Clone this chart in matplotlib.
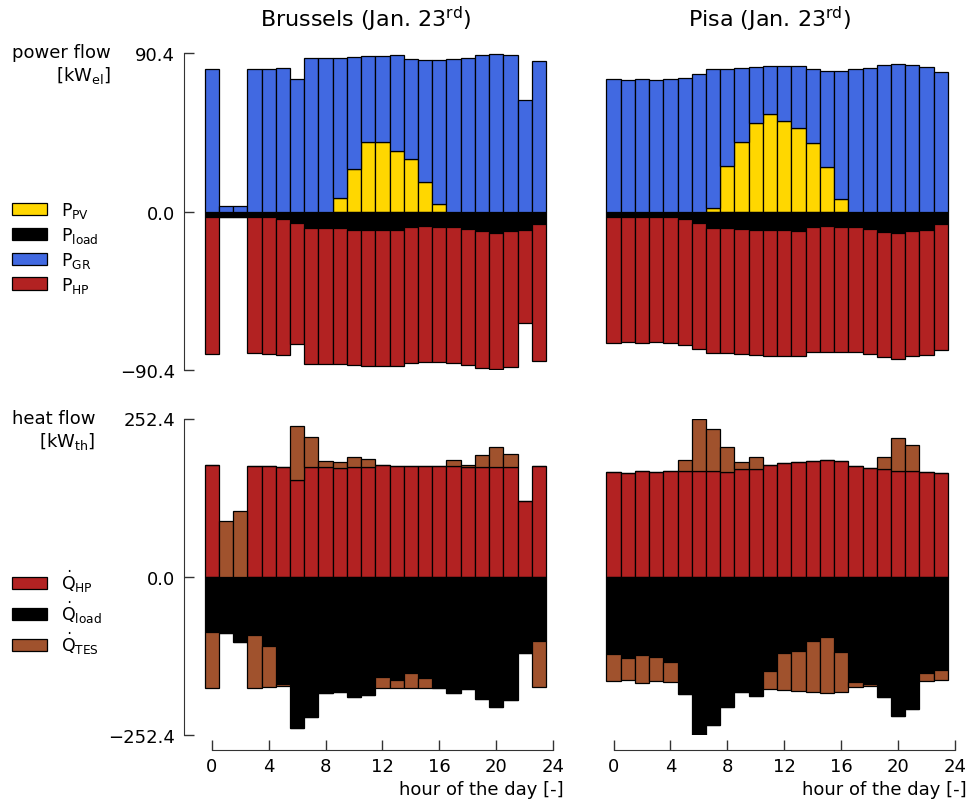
import numpy as np
import matplotlib
matplotlib.use("Agg")
import matplotlib.pyplot as plt

# hours of the day (bar centres)
hours = np.arange(24)

# electric power flows [kW_el] - Brussels
bru_pv = [0, 0, 0, 0, 0, 0, 0, 0, 0, 7.6, 24.5, 39.9, 39.4, 34.4, 29.9, 17.1, 4.0, 0, 0, 0, 0, 0, 0, 0]
bru_gr = [81.2, 3.0, 3.4, 81.0, 81.0, 82.1, 75.7, 87.3, 87.3, 79.9, 63.9, 48.9, 49.2, 54.6, 56.8, 69.2,
          82.3, 86.7, 87.8, 89.4, 90.1, 89.0, 63.5, 85.6]
bru_pload = [3.4, 3.0, 3.4, 2.9, 3.2, 4.0, 6.5, 9.3, 9.3, 9.5, 10.3, 10.8, 10.6, 10.8, 8.9, 8.4, 8.6, 8.9,
             10.1, 11.4, 12.2, 11.0, 10.3, 7.4]
bru_php = [77.6, 0, 0, 77.8, 77.8, 77.8, 68.8, 77.6, 77.6, 77.6, 77.4, 77.4, 77.6, 77.4, 77.6, 77.6, 77.4,
           77.6, 77.4, 77.6, 77.8, 77.6, 53.1, 77.8]

# electric power flows [kW_el] - Pisa
pisa_pv = [0, 0, 0, 0, 0, 0, 0, 1.9, 26.2, 39.4, 50.4, 55.7, 51.7, 47.5, 39.0, 25.5, 7.0, 0, 0, 0, 0, 0, 0, 0]
pisa_gr = [75.3, 74.9, 75.3, 74.9, 75.3, 76.2, 78.7, 79.3, 55.0, 42.4, 32.1, 27.2, 31.2, 35.6, 42.0, 54.9,
           73.4, 81.0, 82.1, 83.5, 84.4, 83.3, 82.3, 79.7]
pisa_pload = [3.4, 3.0, 3.4, 3.0, 3.4, 4.2, 6.7, 9.3, 9.3, 9.7, 10.5, 10.8, 10.8, 11.0, 8.9, 8.4, 8.6, 8.9,
              10.1, 11.6, 12.4, 11.0, 10.5, 7.4]
pisa_php = [71.7, 71.7, 71.7, 71.7, 71.7, 71.7, 71.5, 71.5, 71.5, 71.7, 71.5, 71.5, 71.5, 71.5, 71.5, 71.7,
            71.5, 71.5, 71.3, 71.3, 71.5, 71.5, 71.5, 71.7]

# heat flows [kW_th] - Brussels (TES > 0: discharging, < 0: charging)
bru_qhp = [177.6, 0, 0, 176.5, 176.5, 175.4, 154.7, 174.4, 174.4, 173.8, 174.4, 175.4, 177.6, 177.0, 176.5,
           177.0, 177.0, 177.0, 175.4, 174.9, 174.9, 174.9, 120.1, 176.5]
bru_qload = [88.3, 90.4, 104.7, 93.0, 110.6, 171.2, 241.4, 223.8, 185.5, 183.9, 191.9, 188.2, 160.6, 164.8,
             153.6, 162.1, 177.0, 186.1, 179.2, 194.6, 208.4, 196.2, 121.7, 102.6]
bru_qtes = [-88.8, 89.3, 104.2, -84.0, -65.4, -2.7, 86.1, 48.4, 9.6, 8.5, 16.5, 12.2, -16.5, -12.2, -23.4,
            -14.9, 0, 9.0, 3.2, 19.1, 32.4, 20.2, 0, -73.4]

# heat flows [kW_th] - Pisa
pisa_qhp = [166.9, 165.3, 169.1, 166.9, 168.5, 169.1, 169.1, 169.1, 166.9, 171.2, 172.2, 178.6, 181.3, 182.9,
            183.9, 186.6, 183.9, 176.5, 173.8, 172.2, 169.1, 169.1, 166.9, 165.3]
pisa_qload = [123.3, 129.7, 125.5, 127.6, 136.1, 187.1, 252.4, 236.0, 207.9, 183.9, 190.9, 151.0, 122.3, 119.1,
              102.1, 96.8, 120.7, 168.5, 171.2, 192.5, 222.8, 210.5, 154.2, 149.4]
pisa_qtes = [-43.6, -35.6, -43.6, -39.3, -31.9, 17.0, 83.3, 66.5, 40.4, 11.7, 18.1, -27.6, -59.0, -62.7, -81.3,
             -89.3, -62.7, -7.4, -2.7, 19.1, 52.6, 40.9, -12.8, -15.4]

titles = ["Brussels (Jan. 23$^\\mathrm{rd}$)", "Pisa (Jan. 23$^\\mathrm{rd}$)"]
p_ticks = [-90.4, 0.0, 90.4]
q_ticks = [-252.4, 0.0, 252.4]
x_ticks = [0, 4, 8, 12, 16, 20, 24]

C_PV, C_LOAD, C_GR, C_HP, C_TES = "#FFD700", "black", "#4169E1", "#B22222", "#A0522D"
bar_kw = dict(width=1.0, edgecolor="black", linewidth=0.9)
FS = 13

plt.rcParams["font.family"] = "DejaVu Sans"
plt.rcParams["font.size"] = FS

W, H = 970, 803
fig = plt.figure(figsize=(W / 100, H / 100), dpi=100)


def ax_at(x0, x1, ytop, ybot):
    return fig.add_axes([x0 / W, 1 - ybot / H, (x1 - x0) / W, (ybot - ytop) / H])


def power_panel(ax, pv, gr, pload, php):
    pv, gr, pload, php = map(np.asarray, (pv, gr, pload, php))
    ax.bar(hours, pv, color=C_PV, label="P$_\\mathrm{PV}$", **bar_kw)
    ax.bar(hours, -pload, color=C_LOAD, label="P$_\\mathrm{load}$", **bar_kw)
    ax.bar(hours, gr, bottom=pv, color=C_GR, label="P$_\\mathrm{GR}$", **bar_kw)
    ax.bar(hours, -php, bottom=-pload, color=C_HP, label="P$_\\mathrm{HP}$", **bar_kw)
    ax.set_ylim(p_ticks[0], p_ticks[-1])


def heat_panel(ax, qhp, qload, qtes):
    qhp, qload, qtes = map(np.asarray, (qhp, qload, qtes))
    ax.bar(hours, qhp, color=C_HP, label="$\\dot{\\mathrm{Q}}_\\mathrm{HP}$", **bar_kw)
    ax.bar(hours, -qload, color=C_LOAD, label="$\\dot{\\mathrm{Q}}_\\mathrm{load}$", **bar_kw)
    ax.bar(hours, np.clip(qtes, 0, None), bottom=qhp, color=C_TES,
           label="$\\dot{\\mathrm{Q}}_\\mathrm{TES}$", **bar_kw)
    ax.bar(hours, np.clip(qtes, None, 0), bottom=-qload, color=C_TES, **bar_kw)
    ax.set_ylim(q_ticks[0], q_ticks[-1])


def style(ax, left, bottom):
    ax.set_xlim(-1, 24)
    ax.set_facecolor("none")
    for s in ["top", "right"]:
        ax.spines[s].set_visible(False)
    ax.spines["left"].set_visible(left)
    ax.spines["bottom"].set_visible(bottom)
    ax.tick_params(direction="in", length=7, width=1, color="0.2", labelsize=FS)
    if left:
        ax.spines["left"].set_position(("outward", 10))
        ax.spines["left"].set_color("0.2")
        lo, hi = ax.get_ylim()
        ax.spines["left"].set_bounds(lo, hi)
        ticks = p_ticks if hi < 100 else q_ticks
        ax.set_yticks(ticks, [f"{t:.1f}".replace("-", "\u2212") for t in ticks])
        ax.tick_params(axis="y", pad=6)
    else:
        ax.set_yticks([])
    if bottom:
        ax.spines["bottom"].set_position(("outward", 11))
        ax.spines["bottom"].set_color("0.2")
        ax.spines["bottom"].set_bounds(0, 24)
        ax.set_xticks(x_ticks)
        ax.tick_params(axis="x", pad=5)
    else:
        ax.set_xticks([])


ax_pb = ax_at(197.5, 553.2, 54, 371)
ax_pp = ax_at(599.3, 955.0, 54, 371)
ax_qb = ax_at(197.5, 553.2, 419.5, 736)
ax_qp = ax_at(599.3, 955.0, 419.5, 736)

power_panel(ax_pb, bru_pv, bru_gr, bru_pload, bru_php)
power_panel(ax_pp, pisa_pv, pisa_gr, pisa_pload, pisa_php)
heat_panel(ax_qb, bru_qhp, bru_qload, bru_qtes)
heat_panel(ax_qp, pisa_qhp, pisa_qload, pisa_qtes)

style(ax_pb, True, False)
style(ax_pp, False, False)
style(ax_qb, True, True)
style(ax_qp, False, True)

# titles
fig.text(366 / W, 1 - 27 / H, titles[0], ha="center", va="baseline", fontsize=16)
fig.text(770 / W, 1 - 27 / H, titles[1], ha="center", va="baseline", fontsize=16)

# y labels
fig.text(12 / W, 1 - 44 / H, "power flow\n[kW$_\\mathrm{el}$]", ha="left", va="top",
         multialignment="right", fontsize=FS, linespacing=1.2)
fig.text(12 / W, 1 - 410 / H, "heat flow\n[kW$_\\mathrm{th}$]", ha="left", va="top",
         multialignment="right", fontsize=FS, linespacing=1.2)

# x labels
fig.text(564 / W, 1 - 795 / H, "hour of the day [-]", ha="right", va="baseline", fontsize=FS)
fig.text(967 / W, 1 - 795 / H, "hour of the day [-]", ha="right", va="baseline", fontsize=FS)

# legends
ax_pb.legend(loc="upper left", bbox_to_anchor=(12 / W, 1 - 201 / H), bbox_transform=fig.transFigure,
             frameon=False, borderpad=0, borderaxespad=0, handletextpad=0.85, labelspacing=0.28,
             fontsize=12.5)
ax_qb.legend(loc="upper left", bbox_to_anchor=(12 / W, 1 - 569 / H), bbox_transform=fig.transFigure,
             frameon=False, borderpad=0, borderaxespad=0, handletextpad=0.85, labelspacing=0.28,
             fontsize=12.5)

fig.savefig("out.png", dpi=100)
